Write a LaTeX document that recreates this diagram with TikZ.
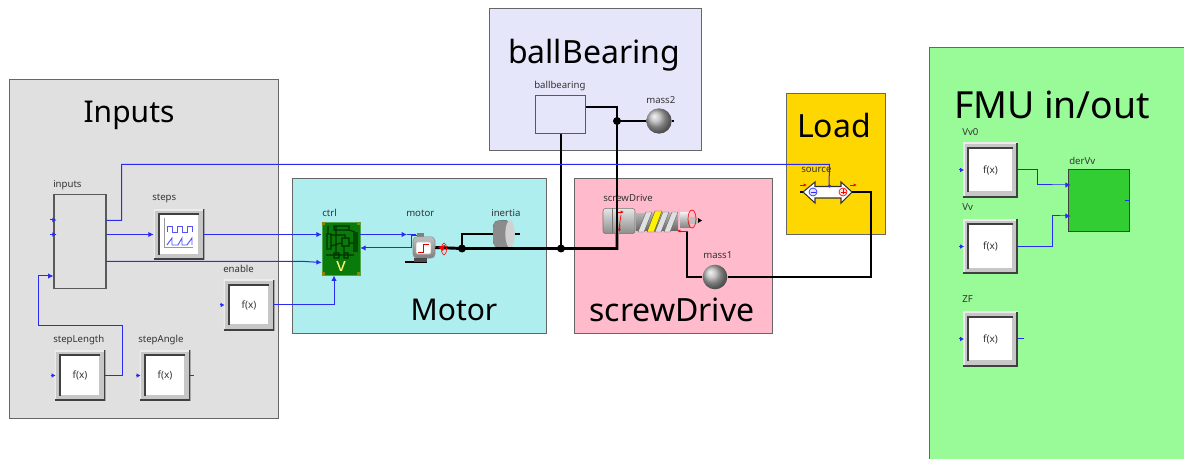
\documentclass[tikz,border=0pt]{standalone}
\usepackage{fontspec}
\setmainfont{Noto Sans}
\usepackage{xcolor}
\usepackage{tikz}
\usetikzlibrary{shapes.geometric, arrows.meta, positioning, calc}

\definecolor{panelgray}{HTML}{E0E0E0}
\definecolor{panelcyan}{HTML}{AFEEEE}
\definecolor{panellav}{HTML}{E6E6FA}
\definecolor{panelpink}{HTML}{FFBBCC}
\definecolor{panelgold}{HTML}{FFD700}
\definecolor{panelfmu}{HTML}{98FB98}
\definecolor{wireblue}{HTML}{2A2AF5}
\definecolor{boardgreen}{HTML}{0A7A0A}
\definecolor{limeblock}{HTML}{32CD32}

\begin{document}
\begin{tikzpicture}[
  x=0.75pt, y=-0.75pt,
  panel/.style={rectangle, draw=black!60, line width=0.7pt, anchor=north west, inner sep=0pt},
  title/.style={font=\fontsize{24}{26}\selectfont, text=black, inner sep=0pt},
  lbl/.style={font=\fontsize{7.2}{8}\selectfont, text=black!80, anchor=west, inner sep=0pt},
  fxbox/.style={rectangle, line width=0pt, fill=black!22, minimum size=38pt, inner sep=0pt,
    font=\fontsize{7.5}{8}\selectfont, text=black!80,
    path picture={
      \draw[black!8, line width=2.4pt] (path picture bounding box.south west) |- (path picture bounding box.north east);
      \fill[white] ([shift={(4.5pt,4.5pt)}]path picture bounding box.south west) rectangle ([shift={(-4.5pt,-4.5pt)}]path picture bounding box.north east);
      \draw[black!75, line width=1.3pt] ([shift={(3.8pt,3.8pt)}]path picture bounding box.south west) |- ([shift={(-3.8pt,-3.8pt)}]path picture bounding box.north east);
      \draw[black!75, line width=2.4pt] (path picture bounding box.south west) -| (path picture bounding box.north east);
    }},
  plainbox/.style={rectangle, draw=black!65, line width=0.8pt, inner sep=0pt},
  sig/.style={draw=wireblue, line width=0.75pt},
  sigarr/.style={sig, -{Latex[length=4pt,width=4pt]}},
  port/.style={draw=wireblue, line width=0.75pt, -{Latex[length=3pt,width=3.5pt]}},
  plotline/.style={draw=wireblue!80, line width=0.7pt},
  shaft/.style={draw=black, line width=2.2pt},
  jdot/.style={circle, fill=black, inner sep=0pt, minimum size=6pt},
  massball/.style={circle, ball color=black!30, minimum size=19pt, inner sep=0pt},
  redarr/.style={color=red, line width=0.6pt, -{Latex[length=2.5pt,width=2.5pt]}}
]
  \clip (0,0) rectangle (1184,459);
  \fill[white] (0,0) rectangle (1184,459);

  % panels
  \node[panel, fill=panelgray, minimum width=201.75pt, minimum height=254.25pt] (inputsPanel) at (9,79) {};
  \node[panel, fill=panelcyan, minimum width=190.5pt, minimum height=116.25pt] (motorPanel) at (292,178) {};
  \node[panel, fill=panellav, minimum width=159pt, minimum height=106.5pt] (bearingPanel) at (489,8) {};
  \node[panel, fill=panelpink, minimum width=148.5pt, minimum height=116.25pt] (screwPanel) at (574,178) {};
  \node[panel, fill=panelgold, minimum width=74.25pt, minimum height=105.75pt] (loadPanel) at (786,93) {};
  \node[panel, fill=panelfmu, minimum width=195pt, minimum height=320pt] (fmuPanel) at (929,47) {};

  \node[title, font=\fontsize{22.5}{26}\selectfont] (inputsTitle) at (129,115) {Inputs};
  \node[title, font=\fontsize{22.5}{26}\selectfont] (motorTitle) at (454,310) {Motor};
  \node[title] (bearingTitle) at (594,55) {ballBearing};
  \node[title] (screwTitle) at (672,310) {screwDrive};
  \node[title] (loadTitle) at (834,126) {Load};
  \node[title, font=\fontsize{28}{30}\selectfont] (fmuTitle) at (1052,105) {FMU in/out};

  % blocks
  \node[plainbox, minimum width=39pt, minimum height=70pt] (inputs) at (80,241.5) {};
  \node[fxbox] (steps) at (179,234.5) {};
  \node[fxbox] (enable) at (249,305) {f(x)};
  \node[fxbox] (stepLength) at (80,375.5) {f(x)};
  \node[fxbox] (stepAngle) at (165,375.5) {f(x)};
  \node[plainbox, minimum width=38pt, minimum height=28pt, fill=panellav] (ballbearing) at (560.5,114.5) {};
  \node[fxbox, minimum size=41pt] (Vv0) at (990.5,170) {f(x)};
  \node[fxbox, minimum size=41pt] (Vv) at (990.5,246.5) {f(x)};
  \node[fxbox, minimum size=41pt] (ZF) at (990.5,339) {f(x)};
  \node[rectangle, draw=black!75, line width=0.8pt, fill=limeblock, minimum size=46pt, inner sep=0pt] (derVv) at (1099,200.5) {};

  % steps icon
  \draw[draw=black!40, line width=0.6pt] (164,218) -- (164,247) -- (193,247);
  \draw[plotline] (167,232) -- (167,226) -- (172,226) -- (172,232) -- (177,232) -- (177,226) -- (182,226) -- (182,232) -- (187,232) -- (187,226) -- (192,226) -- (192,232);
  \draw[plotline] (167,245) -- (172,238) -- (172,245) -- (178,245) -- (182,238) -- (182,245) -- (187,245) -- (192,238) -- (192,245);

  % ctrl
  \node[rectangle, fill=boardgreen, draw=green!50!black!70, minimum width=28.5pt, minimum height=40pt, inner sep=0pt] (ctrl) at (341,248.5) {};
  \foreach \cx/\cy in {323.5/223.5,358.5/223.5,323.5/273.5,358.5/273.5}
    \fill[olive] (\cx-1.5,\cy-1.5) rectangle (\cx+1.5,\cy+1.5);
  \draw[black!80!green, line width=0.8pt] (327,234) rectangle (331,249) (334,226) rectangle (349,230) (342,238) rectangle (349,246)
    (331,235) -- (345,235) -- (345,238) (326,255) -- (354,255) (336,226) -- (336,255) (344,246) -- (344,255) (331,246) -- (341,243) (334,253) rectangle (339,258) (344,253) rectangle (348,258) (328,226) -- (328,234);
  \fill[black!70!green] (353,232) rectangle (358,252);
  \draw[black!80!green, line width=0.8pt] (349,243) -- (353,243) (349,230) -- (355,232);
  \node[inner sep=0pt, font=\bfseries\fontsize{14}{14}\selectfont, text=yellow!55!white] (ctrlV) at (341,266) {v};

  % motor
  \fill[black!50] (417,233) rectangle (424,238);
  \node[rectangle, rounded corners=3pt, top color=black!25, bottom color=black!50, draw=black!45, minimum width=16.5pt, minimum height=16pt, inner sep=0pt] (motor) at (424,247.5) {};
  \node[rectangle, rounded corners=1pt, fill=white, draw=black!25, minimum width=11pt, minimum height=9pt, inner sep=0pt] (motorIcon) at (423.5,248) {};
  \draw[red!90!black, line width=0.6pt] (418,252) -- (423.5,252) -- (423.5,244.5) -- (429,244.5);
  \draw[shaft] (405,262) -- (427,262);
  \fill[black!70] (414,258) rectangle (427,262);

  % inertia
  \fill[left color=black!45, middle color=black!12, right color=black!45, rounded corners=2pt, shading angle=0] (493,226) -- (495,221) -- (508,220) -- (508,248) -- (495,247) -- (493,242) -- cycle;
  \node[ellipse, fill=black!18, minimum width=7pt, minimum height=21pt, inner sep=0pt] (inertia) at (510,234) {};

  % screw
  \node[rectangle, rounded corners=2pt, top color=black!10, bottom color=black!45, draw=black!55, minimum width=24pt, minimum height=19pt, inner sep=0pt] (screwDrive) at (619,221) {};
  \draw[black!55, line width=0.4pt] (612,208.5) -- (612,233.5);
  \fill[top color=black!30, bottom color=black!60] (636,214) rectangle (678,231);
  \fill[top color=black!8, bottom color=black!50] (680,213) rectangle (690,228);
  \fill[black!25] (690,217) rectangle (698,224);
  \foreach \sx in {638,664}
    \fill[black!12, draw=black!60, line width=0.3pt] (\sx,232) -- (\sx+6,232) -- (\sx+14,212) -- (\sx+8,212) -- cycle;
  \fill[black!12, draw=black!60, line width=0.3pt] (655,232) -- (661,232) -- (669,212) -- (663,212) -- cycle;
  \fill[yellow, draw=black!70, line width=0.3pt] (647,232) -- (654,232) -- (662,211) -- (655,211) -- cycle;
  \draw[red, line width=0.5pt] (692,219) ellipse (4 and 9);
  \draw[redarr] (616,212) -- (624,212);
  \draw[red, line width=0.5pt] (621,215) -- (619,228);
  \draw[redarr] (620,225) -- (619,232);
  \draw[redarr] (688,231) -- (677,231);
  \fill[black] (698,218) -- (702,220.5) -- (698,223) -- cycle;

  % source
  \node[inner sep=0pt, minimum size=1pt] (sourceTop) at (829,186) {};
  \node[rectangle, minimum width=36pt, minimum height=14pt, inner sep=0pt] (source) at (827.5,192) {};
  \fill[white, draw=black!80, line width=0.8pt] (803,192) -- (815,182) -- (815,186.5) -- (841,186.5) -- (841,182) -- (852,192) -- (841,203) -- (841,198) -- (815,198) -- (815,203) -- cycle;
  \draw[wireblue, fill=blue!12, line width=0.5pt] (813,192) circle (4);
  \draw[wireblue, line width=0.5pt] (810.5,192) -- (815.5,192);
  \draw[red, fill=red!12, line width=0.5pt] (843,192) circle (4);
  \draw[red, line width=0.5pt] (840.5,192) -- (845.5,192) (843,189.5) -- (843,194.5);
  \draw[redarr] (800,185) -- (807,185);
  \draw[redarr] (850,185) -- (857,185);

  % masses
  \node[massball] (mass2) at (659,121) {};
  \node[massball, minimum size=18.5pt] (mass1) at (715,277) {};

  % shafts
  \coordinate (jMotor) at (462,248.5);
  \coordinate (jBearing) at (561,248.5);
  \coordinate (jMass) at (617,121);
  \coordinate (inertiaL) at (493,234);
  \coordinate (screwIn) at (617,234);
  \coordinate (screwOut) at (687,232);
  \coordinate (sourcePlus) at (852,192);
  \draw[shaft] (motor.east) -- (jMotor) -- (jBearing) -| (screwIn);
  \draw[shaft] (jMotor) |- (inertiaL);
  \draw[shaft] (inertia.east) -- ++(5,0);
  \draw[shaft] (ballbearing.south -| jBearing) -- (jBearing);
  \draw[shaft] (ballbearing.east |- 0,107) -| (screwIn);
  \draw[shaft] (mass2.west) -- (jMass);
  \draw[shaft] (mass2.east) -- ++(2,0);
  \draw[shaft] (screwOut) |- (mass1.west);
  \draw[shaft] (mass1.east) -| (871,192) -- (sourcePlus);
  \draw[shaft] (source.west) ++(-3,0) -- ++(3,0);
  \node[jdot] (dotMotor) at (jMotor) {};
  \node[jdot] (dotBearing) at (jBearing) {};
  \node[jdot] (dotMass) at (jMass) {};
  \draw[red, line width=0.5pt] (444,249) ellipse (2.5 and 6);
  \fill[red] (438,247) -- (445,245) -- (443,251) -- cycle;

  % signals
  \draw[sigarr] (inputs.east |- steps.west) -- (steps.west);
  \draw[sigarr] (steps.east) -- (ctrl.west |- steps.east);
  \draw[sigarr] (inputs.east |- 0,261.5) -- (305,261.5) -- (ctrl.west |- 0,262.5);
  \draw[sigarr] (enable.east) -| (ctrl.south -| 334,0);
  \draw[sigarr] (stepLength.east) -- (122,375.5) -- (122,326) -- (38,326) -- (38,276) -- (inputs.west |- 0,276);
  \draw[sigarr] (ctrl.east |- 0,234.5) -- (407,234.5);
  \draw[sigarr] (411,236) -- (411,248) -- (ctrl.east |- 0,248);
  \draw[sigarr] (Vv0.east) -- (1037,170) -- (1037,185) -- (derVv.west |- 0,185) -- ++(3,0);
  \draw[sigarr] (Vv.east) -- (1052,246.5) -- (1052,216) -- (derVv.west |- 0,216) -- ++(3,0);
  \draw[sig] (inputs.east |- 0,220.5) -- (121.5,220.5) |- (829.5,164.5) -- (sourceTop.center);
  \fill[wireblue] (829.5,186) circle (1.6);
  \draw[sig] (stepAngle.east) -- ++(4,0);
  \draw[sig] (407,234.5) -- (416,234.5);
  \draw[sig] (411,236) -- (417,236);
  \draw[sig] (1125,201) -- (derVv.east |- 0,201);
  \draw[sig] (ZF.east) -- ++(6,0);

  % input ports
  \draw[port] ($(inputs.west |- 0,220)+(-3,0)$) -- ++(6,0);
  \draw[port] ($(inputs.west |- 0,234.5)+(-3,0)$) -- ++(6,0);
  \draw[port] ($(enable.west)+(-4,0)$) -- ++(5,0);
  \draw[port] ($(stepLength.west)+(-4,0)$) -- ++(5,0);
  \draw[port] ($(stepAngle.west)+(-4,0)$) -- ++(5,0);
  \draw[port] ($(Vv0.west)+(-4,0)$) -- ++(5,0);
  \draw[port] ($(Vv.west)+(-4,0)$) -- ++(5,0);
  \draw[port] ($(ZF.west)+(-4,0)$) -- ++(5,0);

  % labels
  \node[lbl] (inputsLbl) at (53,185) {inputs};
  \node[lbl] (stepsLbl) at (152,198) {steps};
  \node[lbl] (enableLbl) at (223,269) {enable};
  \node[lbl] (stepLengthLbl) at (53,340) {stepLength};
  \node[lbl] (stepAngleLbl) at (138,340) {stepAngle};
  \node[lbl] (ctrlLbl) at (322,213) {ctrl};
  \node[lbl] (motorLbl) at (406,213) {motor};
  \node[lbl] (inertiaLbl) at (491,213) {inertia};
  \node[lbl] (ballbearingLbl) at (534,86) {ballbearing};
  \node[lbl] (mass2Lbl) at (646,100) {mass2};
  \node[lbl] (screwDriveLbl) at (603,198) {screwDrive};
  \node[lbl] (mass1Lbl) at (703,255) {mass1};
  \node[lbl] (sourceLbl) at (801,170) {source};
  \node[lbl] (Vv0Lbl) at (962,132) {Vv0};
  \node[lbl] (VvLbl) at (962,207) {Vv};
  \node[lbl] (ZFLbl) at (962,299) {ZF};
  \node[lbl] (derVvLbl) at (1069,161) {derVv};
\end{tikzpicture}
\end{document}
